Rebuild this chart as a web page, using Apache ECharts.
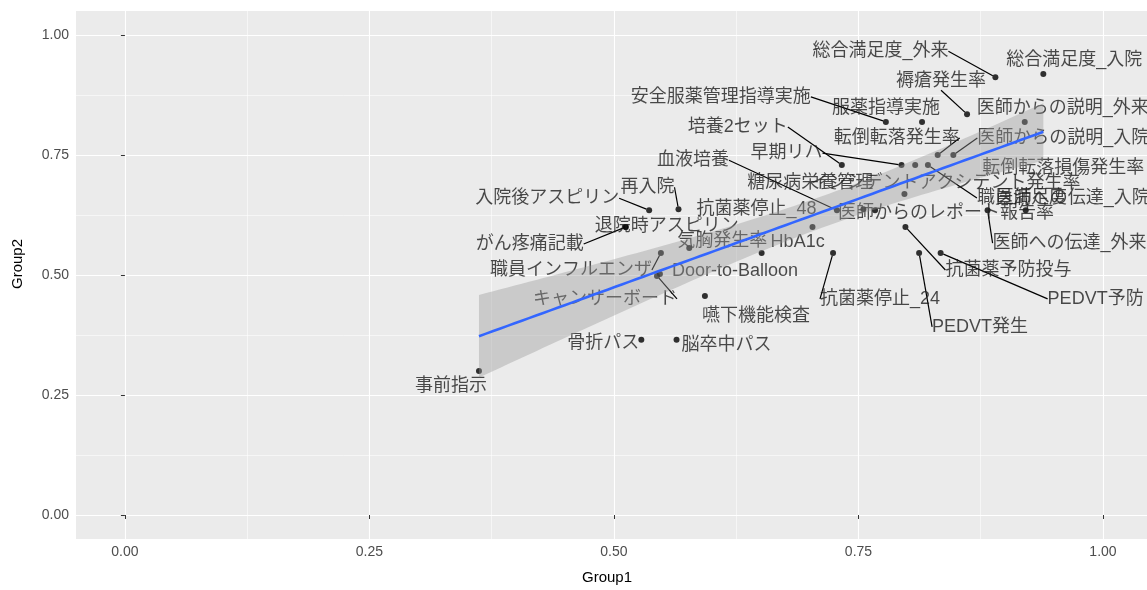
<!DOCTYPE html>
<html>
<head>
<meta charset="utf-8">
<script src="https://cdn.jsdelivr.net/npm/echarts@6/dist/echarts.min.js"></script>
<style>
  html, body { margin: 0; padding: 0; background: #fff; overflow: hidden; }
  #chart { width: 1147px; height: 590px; }
</style>
</head>
<body>
<div id="chart"></div>
<script>
// Indicator names and their scores in the two groups
const names = [
  '総合満足度_外来', '総合満足度_入院', '褥瘡発生率', '安全服薬管理指導実施', '服薬指導実施',
  '医師からの説明_外来', '培養2セット', '転倒転落発生率', '医師からの説明_入院', '早期リハ',
  '転倒転落損傷発生率', '血液培養', '糖尿病栄養管理', 'インシデントアクシデント発生率', '職員満足度',
  '医師への伝達_入院', '再入院', '入院後アスピリン', '抗菌薬停止_48', '医師からのレポート報告率',
  '退院時アスピリン', 'がん疼痛記載', '気胸発生率', 'HbA1c', '医師への伝達_外来',
  '職員インフルエンザ', 'Door-to-Balloon', '抗菌薬予防投与', 'PEDVT予防', 'キャンサーボード',
  '抗菌薬停止_24', 'PEDVT発生', '嚥下機能検査', '骨折パス', '脳卒中パス', '事前指示'
];
const group1 = [
  0.890, 0.939, 0.861, 0.778, 0.815,
  0.920, 0.733, 0.831, 0.847, 0.794,
  0.808, 0.728, 0.755, 0.797, 0.821,
  0.921, 0.566, 0.536, 0.703, 0.767,
  0.512, 0.512, 0.577, 0.651, 0.882,
  0.548, 0.547, 0.798, 0.834, 0.544,
  0.724, 0.812, 0.593, 0.528, 0.564, 0.362
];
const group2 = [
  0.912, 0.919, 0.835, 0.819, 0.819,
  0.819, 0.729, 0.750, 0.750, 0.729,
  0.729, 0.635, 0.637, 0.669, 0.729,
  0.635, 0.637, 0.635, 0.600, 0.635,
  0.600, 0.600, 0.556, 0.546, 0.635,
  0.546, 0.502, 0.600, 0.546, 0.498,
  0.546, 0.546, 0.456, 0.365, 0.365, 0.300
];
const tickValues = [0, 0.25, 0.5, 0.75, 1];
const minorValues = [0.125, 0.375, 0.625, 0.875];

// Repelled label placement: [dx, dy, draw segment]
const labelPlacement = [
  [-115, -26, 1], [31, -14, 0], [-26, -33, 1], [-165, -25, 1], [-36, -14, 0],
  [38, -14, 0], [-104, -38, 1], [-41, -17, 1], [110, -17, 1], [-115, -12, 1],
  [148, 3, 0], [-144, -50, 1], [-53, -26, 0], [41, -11, 0], [94, 33, 1],
  [47, -12, 0], [-31, -22, 1], [-102, -12, 1], [-56, -18, 0], [71, 3, 0],
  [41, -1, 0], [-96, 17, 1], [33, -7, 0], [36, -11, 0], [82, 33, 1],
  [-90, 17, 1], [75, -3, 0], [103, 43, 1], [155, 46, 1], [-52, 23, 1],
  [47, 46, 1], [61, 74, 1], [51, 20, 0], [-38, 3, 0], [50, 5, 0], [-28, 15, 0]
];

// Linear fit with 95% confidence band (lm smoother)
function fitLine(xs, ys) {
  const n = xs.length;
  const mx = xs.reduce((a, b) => a + b, 0) / n;
  const my = ys.reduce((a, b) => a + b, 0) / n;
  let sxx = 0, sxy = 0;
  for (let i = 0; i < n; i++) {
    sxx += (xs[i] - mx) * (xs[i] - mx);
    sxy += (xs[i] - mx) * (ys[i] - my);
  }
  const b = sxy / sxx;
  const a = my - b * mx;
  let sse = 0;
  for (let i = 0; i < n; i++) {
    const r = ys[i] - (a + b * xs[i]);
    sse += r * r;
  }
  const s = Math.sqrt(sse / (n - 2));
  const t = 2.032; // t(0.975, 34)
  const lo = Math.min(...xs), hi = Math.max(...xs);
  const line = [], upper = [], lower = [];
  const steps = 80;
  for (let k = 0; k < steps; k++) {
    const x = lo + (hi - lo) * k / (steps - 1);
    const yhat = a + b * x;
    const se = s * Math.sqrt(1 / n + (x - mx) * (x - mx) / sxx);
    line.push([x, yhat]);
    upper.push([x, yhat + t * se]);
    lower.push([x, yhat - t * se]);
  }
  return { line, upper, lower };
}
const fit = fitLine(group1, group2);

const labelFont = '"Liberation Sans", "Noto Sans CJK JP", sans-serif';
const axisFont = '"Liberation Sans", Arial, sans-serif';

const points = names.map((nm, i) => ({
  name: nm,
  value: [group1[i], group2[i]],
  labelLine: { show: !!labelPlacement[i][2] }
}));

const chart = echarts.init(document.getElementById('chart'), null, { renderer: 'canvas' });

// The panel runs past the right edge of the page, so the visible x range stops at 1.045
chart.setOption({
  animation: false,
  backgroundColor: '#ffffff',
  grid: {
    left: 76, right: 0, top: 11, bottom: 51,
    show: true, backgroundColor: '#EBEBEB', borderWidth: 0
  },
  xAxis: [
    {
      type: 'value', min: -0.05, max: 1.045, position: 'bottom',
      axisLine: { show: false },
      axisTick: { show: true, customValues: tickValues, length: 4, lineStyle: { color: '#333333', width: 1 } },
      axisLabel: {
        customValues: tickValues, margin: 6, color: '#4D4D4D', fontSize: 14,
        fontFamily: axisFont,
        formatter: v => v.toFixed(2)
      },
      splitLine: { show: true, lineStyle: { color: '#FFFFFF', width: 1.1 } }
    },
    {
      type: 'value', min: -0.05, max: 1.045, position: 'top',
      axisLine: { show: false },
      axisTick: { show: false, customValues: minorValues },
      axisLabel: { show: false, customValues: minorValues },
      splitLine: { show: true, lineStyle: { color: '#FFFFFF', width: 0.55 } }
    }
  ],
  yAxis: [
    {
      type: 'value', min: -0.05, max: 1.05, position: 'left',
      axisLine: { show: false },
      axisTick: { show: true, customValues: tickValues, length: 4, lineStyle: { color: '#333333', width: 1 } },
      axisLabel: {
        customValues: tickValues, margin: 7, color: '#4D4D4D', fontSize: 14,
        fontFamily: axisFont,
        formatter: v => v.toFixed(2)
      },
      splitLine: { show: true, lineStyle: { color: '#FFFFFF', width: 1.1 } }
    },
    {
      type: 'value', min: -0.05, max: 1.05, position: 'right',
      axisLine: { show: false },
      axisTick: { show: false, customValues: minorValues },
      axisLabel: { show: false, customValues: minorValues },
      splitLine: { show: true, lineStyle: { color: '#FFFFFF', width: 0.55 } }
    }
  ],
  graphic: [
    {
      type: 'text', x: 607, y: 578,
      style: {
        text: 'Group1', fill: '#000000', font: '15px "Liberation Sans", Arial, sans-serif',
        textAlign: 'center', textVerticalAlign: 'middle'
      }
    },
    {
      type: 'text', x: 18, y: 264, rotation: Math.PI / 2,
      style: {
        text: 'Group2', fill: '#000000', font: '15px "Liberation Sans", Arial, sans-serif',
        textAlign: 'center', textVerticalAlign: 'middle'
      }
    }
  ],
  series: [
    {
      type: 'scatter',
      xAxisIndex: 0, yAxisIndex: 0,
      z: 2,
      symbol: 'circle',
      symbolSize: 6,
      itemStyle: { color: '#000000' },
      data: points,
      label: {
        show: true,
        position: 'inside',
        formatter: '{b}',
        color: '#1E1E1E',
        fontSize: 18,
        fontFamily: labelFont,
        align: 'center',
        verticalAlign: 'middle'
      },
      labelLine: {
        show: true,
        lineStyle: { color: '#000000', width: 1.2 }
      },
      labelLayout: p => ({
        dx: labelPlacement[p.dataIndex][0],
        dy: labelPlacement[p.dataIndex][1]
      }),
      emphasis: { disabled: true }
    },
    {
      type: 'custom',
      xAxisIndex: 0, yAxisIndex: 0,
      z: 3,
      silent: true,
      data: [fit.line[0]],
      renderItem: (params, api) => {
        const ring = fit.upper.concat(fit.lower.slice().reverse()).map(pt => api.coord(pt));
        return {
          type: 'polygon',
          shape: { points: ring },
          style: { fill: 'rgba(153,153,153,0.4)', stroke: null }
        };
      }
    },
    {
      type: 'line',
      xAxisIndex: 0, yAxisIndex: 0,
      z: 4,
      silent: true,
      showSymbol: false,
      data: fit.line,
      lineStyle: { color: '#3366FF', width: 2.6 },
      itemStyle: { color: '#3366FF' }
    }
  ]
});
</script>
</body>
</html>
